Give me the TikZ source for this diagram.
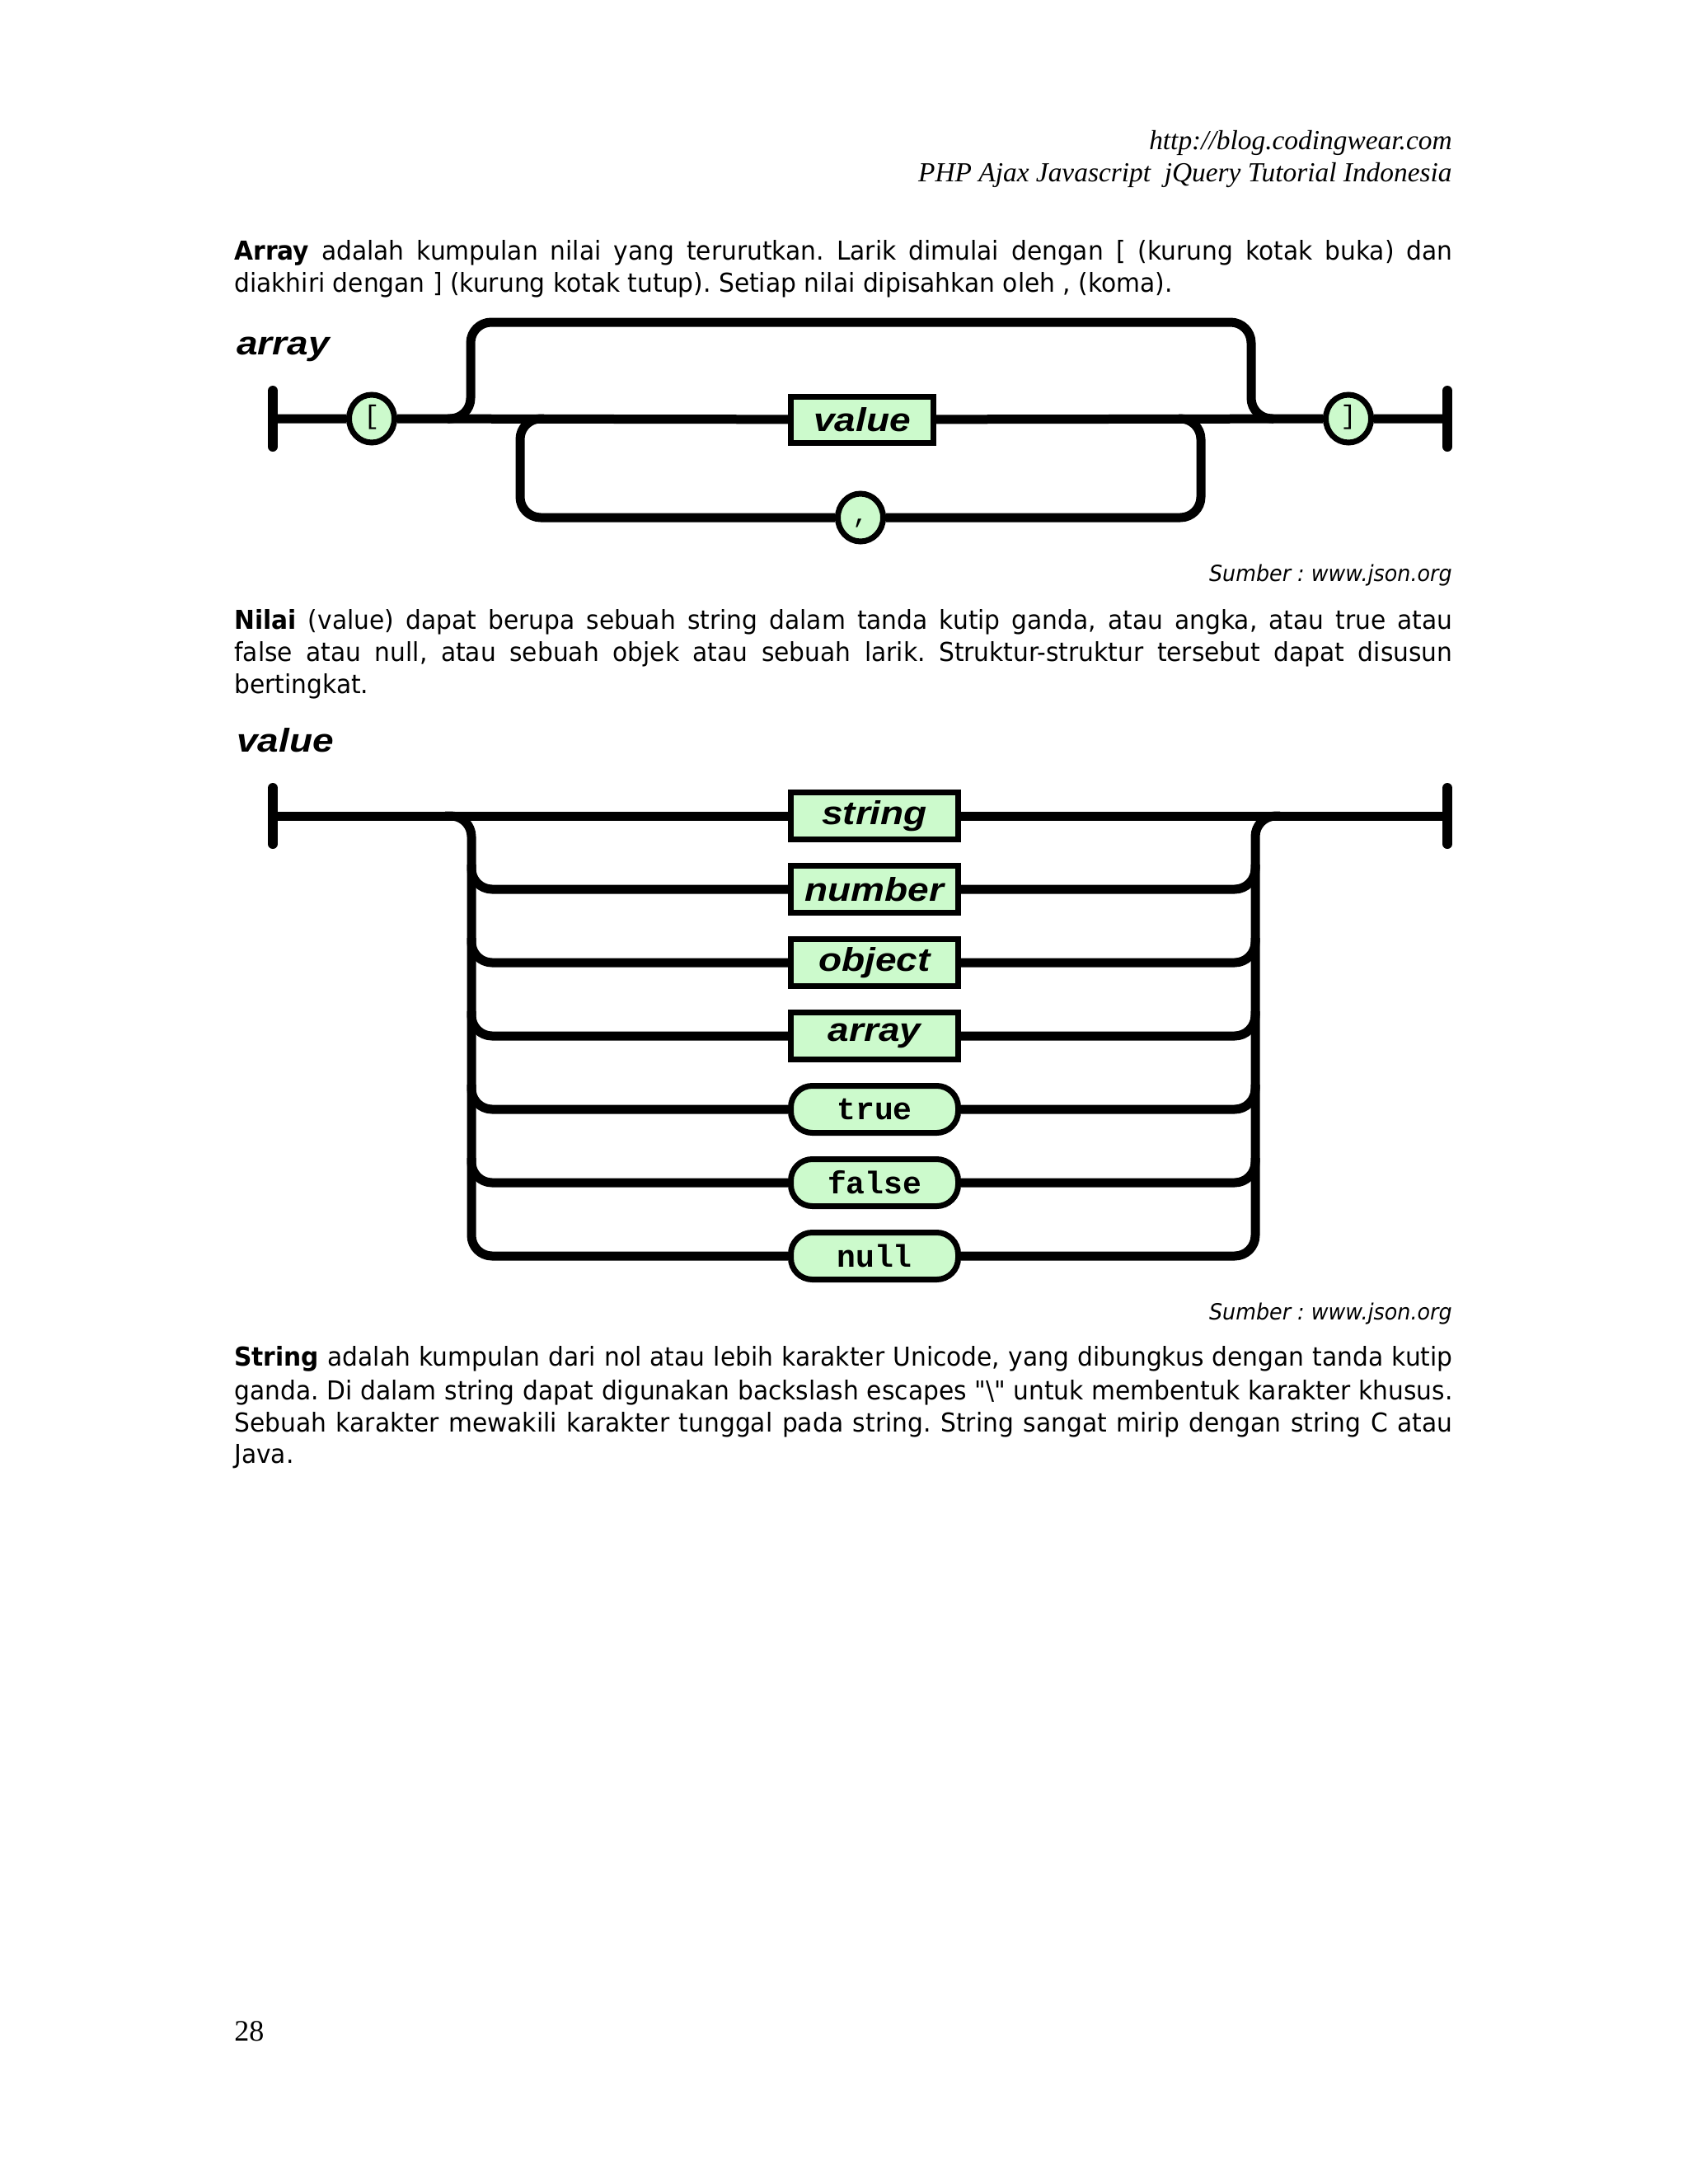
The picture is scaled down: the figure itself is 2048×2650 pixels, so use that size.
\documentclass[tikz,border=0pt]{standalone}
\usepackage{fontspec}
\setmainfont{DejaVu Sans}[FakeStretch=0.94, Ligatures=TeXOff]
\newfontfamily\hdrfont{Liberation Serif}
\newfontfamily\rrfont{Liberation Sans}[FakeStretch=1.15]
\newfontfamily\rrmono{Liberation Mono}
\usetikzlibrary{shapes.geometric}
\definecolor{rrgreen}{RGB}{204,250,204}
\frenchspacing
\begin{document}
\begin{tikzpicture}[x=0.5pt,y=-0.5pt,
  rail/.style={line width=5.5pt, line cap=butt, line join=round, rounded corners=12.5pt},
  endbar/.style={line width=6pt, line cap=round},
  rbox/.style={draw, line width=3.5pt, fill=rrgreen, minimum width=101.5pt, minimum height=28.5pt, inner sep=0pt, font=\rrfont\fontsize{20}{24}\selectfont\bfseries\itshape},
  lbox/.style={rbox, rounded corners=13pt, font=\rrmono\fontsize{19}{22}\selectfont\bfseries},
  tok/.style={ellipse, draw, line width=3.5pt, fill=rrgreen, minimum width=27.5pt, minimum height=29pt, inner sep=0pt, font=\rrmono\fontsize{16}{18}\selectfont, text height=1.4ex, text depth=0.3ex},
  body/.style={anchor=base west, inner sep=0pt, font=\fontsize{15.8}{19}\selectfont},
  hdr/.style={anchor=base east, inner sep=0pt, font=\hdrfont\itshape\fontsize{16.7}{20}\selectfont},
  src/.style={anchor=base east, inner sep=0pt, font=\itshape\fontsize{13.5}{16}\selectfont},
  title/.style={anchor=base west, inner sep=0pt, font=\rrfont\fontsize{20}{24}\selectfont\bfseries\itshape}
]
\fill[white] (0,0) rectangle (2048,2650);
\useasboundingbox (0,0) rectangle (2048,2650);

% header
\node[hdr] (h1) at (1762,181) {http://blog.codingwear.com};
\node[hdr] (h2) at (1762,220) {PHP Ajax Javascript\ \ jQuery Tutorial Indonesia};

% paragraph 1
\node[body] (p1a) at (284,315) {\makebox[739pt][s]{\textbf{Array} adalah kumpulan nilai yang terurutkan. Larik dimulai dengan [ (kurung kotak buka) dan}};
\node[body] (p1b) at (284,354) {diakhiri dengan ] (kurung kotak tutup). Setiap nilai dipisahkan oleh , (koma).};

% array diagram
\node[title] (t1) at (287,430) {array};
\coordinate (aL) at (331,508);
\coordinate (aR) at (1756,508);
\node[tok] (lb) at (451,508) {[};
\node[tok] (rb) at (1636,508) {]};
\node[rbox, minimum width=86.5pt, minimum height=28pt] (aval) at (1046,509) {value};
\node[tok] (comma) at (1044,628) {,};
\draw[endbar] ([yshift=17pt]aL) -- ([yshift=-17pt]aL);
\draw[endbar] ([yshift=17pt]aR) -- ([yshift=-17pt]aR);
\draw[rail] (aL) -- (lb) -- (aval) -- (rb) -- (aR);
\draw[rail] (543,508) -- (571,508) -- (571,391) -- (1518,391) -- (1518,508) -- (1545,508);
\draw[rail] (comma.west) -- (631,628) -- (631,508) -- (660,508);
\draw[rail] (comma.east) -- (1457,628) -- (1457,508) -- (1430,508);

\node[src] (src1) at (1762,705) {Sumber : www.json.org};

% paragraph 2
\node[body] (p2a) at (284,763) {\makebox[739pt][s]{\textbf{Nilai} (value) dapat berupa sebuah string dalam tanda kutip ganda, atau angka, atau true atau}};
\node[body] (p2b) at (284,802) {\makebox[739pt][s]{false atau null, atau sebuah objek atau sebuah larik. Struktur-struktur tersebut dapat disusun}};
\node[body] (p2c) at (284,841) {bertingkat.};

% value diagram
\node[title] (t2) at (287,912) {value};
\coordinate (vL) at (331,990);
\coordinate (vR) at (1756,990);
\node[rbox] (vstring) at (1061,990) {string};
\node[rbox] (vnumber) at (1061,1079) {number};
\node[rbox] (vobject) at (1061,1168) {object};
\node[rbox] (varray) at (1061,1257) {array};
\node[lbox] (vtrue) at (1061,1346) {true};
\node[lbox] (vfalse) at (1061,1435) {false};
\node[lbox] (vnull) at (1061,1524) {null};
\draw[endbar] ([yshift=17pt]vL) -- ([yshift=-17pt]vL);
\draw[endbar] ([yshift=17pt]vR) -- ([yshift=-17pt]vR);
\draw[rail] (vL) -- (vstring) -- (vR);
\draw[rail] (540,990) -- (572,990) -- (572,1524) -- (vnull.west);
\draw[rail] (572,1049) -- (572,1079) -- (vnumber.west);
\draw[rail] (572,1138) -- (572,1168) -- (vobject.west);
\draw[rail] (572,1227) -- (572,1257) -- (varray.west);
\draw[rail] (572,1316) -- (572,1346) -- (vtrue.west);
\draw[rail] (572,1405) -- (572,1435) -- (vfalse.west);
\draw[rail] (vnumber.east) -- (1523,1079) -- (1523,1049);
\draw[rail] (vobject.east) -- (1523,1168) -- (1523,1138);
\draw[rail] (varray.east) -- (1523,1257) -- (1523,1227);
\draw[rail] (vtrue.east) -- (1523,1346) -- (1523,1316);
\draw[rail] (vfalse.east) -- (1523,1435) -- (1523,1405);
\draw[rail] (vnull.east) -- (1523,1524) -- (1523,990) -- (1553,990);

\node[src] (src2) at (1762,1601) {Sumber : www.json.org};

% paragraph 3
\node[body] (p3a) at (284,1657) {\makebox[739pt][s]{\textbf{String} adalah kumpulan dari nol atau lebih karakter Unicode, yang dibungkus dengan tanda kutip}};
\node[body] (p3b) at (284,1698) {\makebox[739pt][s]{ganda. Di dalam string dapat digunakan backslash escapes "\textbackslash" untuk membentuk karakter khusus.}};
\node[body] (p3c) at (284,1737) {\makebox[739pt][s]{Sebuah karakter mewakili karakter tunggal pada string. String sangat mirip dengan string C atau}};
\node[body] (p3d) at (284,1775) {Java.};

% page number
\node[anchor=base west, inner sep=0pt, font=\hdrfont\fontsize{18}{20}\selectfont] (pg) at (284,2476) {28};
\end{tikzpicture}
\end{document}
